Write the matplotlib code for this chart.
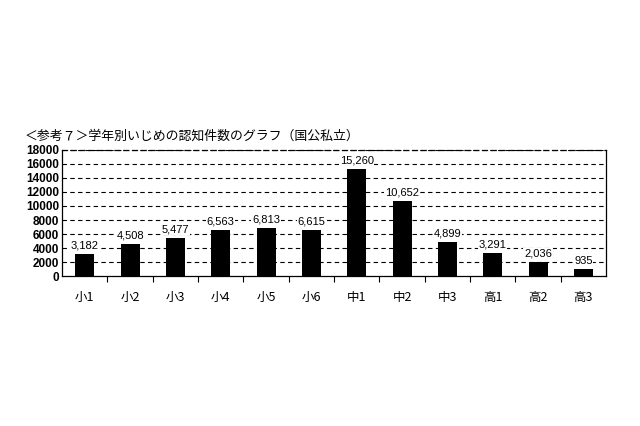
import matplotlib
matplotlib.use("Agg")
import matplotlib.pyplot as plt

plt.rcParams['font.family'] = ['Noto Sans CJK JP', 'DejaVu Sans']

categories = ["小1", "小2", "小3", "小4", "小5", "小6", "中1", "中2", "中3", "高1", "高2", "高3"]
values = [3182, 4508, 5477, 6563, 6813, 6615, 15260, 10652, 4899, 3291, 2036, 935]
yticks = [0, 2000, 4000, 6000, 8000, 10000, 12000, 14000, 16000, 18000]
title = "＜参考７＞学年別いじめの認知件数のグラフ（国公私立）"

fig = plt.figure(figsize=(6.4, 4.26), dpi=100)
ax = fig.add_axes([0.097, 0.352, 0.85, 0.296])
x = range(len(categories))
ax.bar(x, values, width=0.42, color="black", zorder=3)
ax.set_xlim(-0.5, len(categories) - 0.5)
ax.set_ylim(0, 18000)
ax.set_yticks(yticks)
ax.set_yticklabels([str(v) for v in yticks], fontsize=8.5, fontweight='bold', family=['Liberation Sans', 'DejaVu Sans'])
for v in yticks[1:]:
    ax.axhline(v, color="black", lw=0.8, ls=(0, (4, 3)), zorder=1)
ax.set_xticks([i + 0.5 for i in range(len(categories) - 1)], minor=False)
ax.set_xticklabels([])
ax.set_xticks(list(x), minor=True)
ax.set_xticklabels(categories, minor=True, fontsize=9)
ax.tick_params(axis='x', which='major', direction='out', length=4, width=0.8)
ax.tick_params(axis='x', which='minor', length=0, pad=11)
ax.tick_params(axis='y', direction='in', length=0, pad=2)
for s in ax.spines.values():
    s.set_linewidth(0.9)
ax.spines['top'].set_linestyle((0, (4, 3)))
for i, v in enumerate(values):
    ax.text(i, v + 500, f"{v:,}", ha='center', va='bottom', fontsize=8,
            family=['Liberation Sans', 'DejaVu Sans'], zorder=4,
            bbox=dict(facecolor='white', edgecolor='none', pad=0.5))
fig.text(0.038, 0.681, title, fontsize=9.3, ha='left', va='center')
fig.savefig("out.png", dpi=100)
